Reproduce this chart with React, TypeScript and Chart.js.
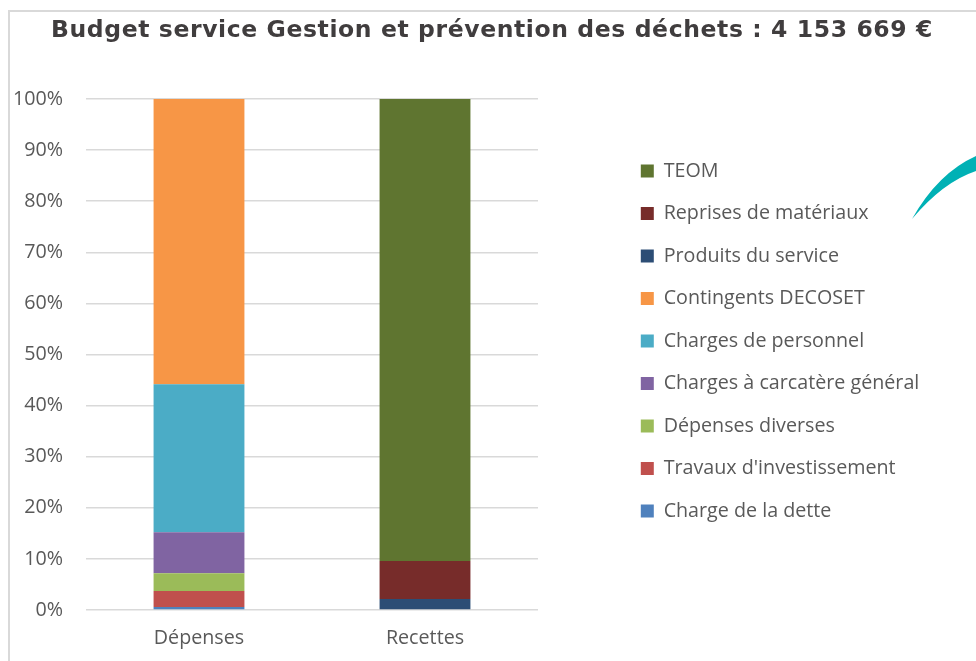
import React, { useEffect, useRef } from "react";
import { Chart, registerables } from "chart.js";

Chart.register(...registerables);

// ---- Data (percent of each column) ----
const categories = ["Dépenses", "Recettes"];
const titleText = "Budget service Gestion et prévention des déchets : 4 153 669 €";
const yTickValues = [0, 10, 20, 30, 40, 50, 60, 70, 80, 90, 100];

const chargeDeLaDette = [0.6, null];
const travauxInvestissement = [3.1, null];
const depensesDiverses = [3.5, null];
const chargesCaractereGeneral = [8.0, null];
const chargesPersonnel = [29.0, null];
const contingentsDecoset = [55.8, null];
const produitsDuService = [null, 2.15];
const reprisesMateriaux = [null, 7.45];
const teom = [null, 90.4];

const seriesNames = [
  "Charge de la dette",
  "Travaux d'investissement",
  "Dépenses diverses",
  "Charges à carcatère général",
  "Charges de personnel",
  "Contingents DECOSET",
  "Produits du service",
  "Reprises de matériaux",
  "TEOM",
];
const seriesValues = [
  chargeDeLaDette,
  travauxInvestissement,
  depensesDiverses,
  chargesCaractereGeneral,
  chargesPersonnel,
  contingentsDecoset,
  produitsDuService,
  reprisesMateriaux,
  teom,
];
const seriesColors = [
  "#4F81BD",
  "#C0504D",
  "#9BBB59",
  "#8064A2",
  "#4BACC6",
  "#F79646",
  "#2C4D75",
  "#772C2A",
  "#5F7530",
];

const TEXT_GRAY = "#595959";
const GRID = "#d9d9d9";
const LEGEND_WIDTH = 358;

const patchPlugin = {
  id: "layoutPatch",
  beforeLayout(chart: any) {
    const lg = chart.legend;
    if (lg && !lg.__patched) {
      lg.__patched = true;
      const orig = lg.update.bind(lg);
      lg.update = (mw: number, mh: number, m: any) => {
        orig(800, mh, m);
        lg.width = LEGEND_WIDTH;
      };
    }
    const tb = chart.titleBlock;
    if (tb && !tb.__patched) {
      tb.__patched = true;
      const od = tb.draw.bind(tb);
      tb.draw = (...args: any[]) => {
        const c = chart.ctx as any;
        c.save();
        c.letterSpacing = "0.6px";
        od(...args);
        c.restore();
      };
    }
  },
  afterDraw(chart: any) {
    // decorative teal swoosh at the right edge
    const c = chart.ctx as CanvasRenderingContext2D;
    c.save();
    c.fillStyle = "#00B1B5";
    c.beginPath();
    c.moveTo(912, 219);
    c.quadraticCurveTo(938, 173, 976, 156);
    c.lineTo(976, 171);
    c.quadraticCurveTo(943, 182, 912, 219);
    c.closePath();
    c.fill();
    c.restore();
  },
};

export default function App() {
  const canvasRef = useRef<HTMLCanvasElement>(null);

  useEffect(() => {
    const canvas = canvasRef.current;
    if (!canvas) return;
    const font = { family: "'Open Sans'", size: 19.7 };
    const chart = new Chart(canvas, {
      type: "bar",
      data: {
        labels: categories,
        datasets: seriesNames.map((name, i) => ({
          label: name,
          data: seriesValues[i],
          backgroundColor: seriesColors[i],
          borderWidth: 0,
          categoryPercentage: 1,
          barPercentage: 0.402,
        })),
      },
      options: {
        responsive: false,
        animation: false,
        layout: { padding: { left: 8, right: 0, top: 21, bottom: 0 } },
        scales: {
          x: {
            stacked: true,
            grid: { display: false, drawTicks: false },
            border: { display: false },
            ticks: { color: TEXT_GRAY, font, padding: 17 },
            afterFit: (s: any) => {
              s.height = 51;
            },
          },
          y: {
            stacked: true,
            min: 0,
            max: 100,
            afterBuildTicks: (s: any) => {
              s.ticks = yTickValues.map((v) => ({ value: v }));
            },
            ticks: {
              color: TEXT_GRAY,
              font,
              padding: 23,
              callback: (v: any) => v + "%",
            },
            grid: { color: GRID, lineWidth: 1.5, drawTicks: false },
            border: { display: false },
            afterFit: (s: any) => {
              s.width = 78;
            },
          },
          gap: {
            type: "linear",
            position: "right",
            display: true,
            grid: { display: false, drawTicks: false },
            border: { display: false },
            ticks: { display: false },
            afterFit: (s: any) => {
              s.width = 80;
            },
          },
        },
        plugins: {
          title: {
            display: true,
            text: titleText,
            color: "#403d3e",
            font: { family: "'DejaVu Sans'", size: 23.5, weight: "bold", lineHeight: 0.8 },
            padding: { top: 0.1, bottom: 59.1 },
          },
          legend: {
            display: true,
            position: "right",
            reverse: true,
            labels: {
              color: TEXT_GRAY,
              font,
              boxWidth: 13,
              boxHeight: 13,
              padding: 22.8,
            },
          },
          tooltip: { enabled: false },
        },
      },
      plugins: [patchPlugin],
    } as any);
    return () => chart.destroy();
  }, []);

  return (
    <div
      style={{
        position: "fixed",
        left: 0,
        top: 0,
        width: 976,
        height: 661,
        overflow: "hidden",
        background: "#ffffff",
      }}
    >
      <div
        style={{
          position: "absolute",
          left: 8,
          top: 10,
          width: 1000,
          height: 700,
          borderLeft: "2px solid #d9d9d9",
          borderTop: "2px solid #d9d9d9",
        }}
      />
      <canvas
        ref={canvasRef}
        width={976}
        height={661}
        style={{ position: "absolute", left: 0, top: 0, width: 976, height: 661 }}
      />
    </div>
  );
}
